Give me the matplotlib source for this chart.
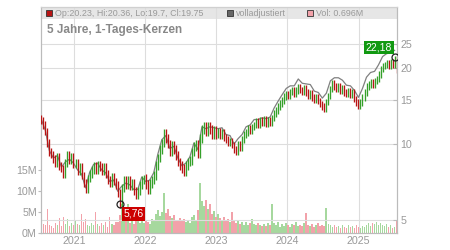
import numpy as np
import pandas as pd
import matplotlib
matplotlib.use('Agg')
import matplotlib.pyplot as plt
from matplotlib.patches import Rectangle
from matplotlib.ticker import FixedLocator, NullLocator

plt.rcParams['font.family'] = ['Liberation Sans', 'DejaVu Sans']

#
# data (price in EUR, volume in millions)
#
closes = [
    12.4, 11.9, 11.2, 10.1, 9.3, 9.1, 8.7, 8.4, 8.9, 8.2, 8.0,
    7.6, 8.4, 9.1, 8.6, 8.9, 8.3, 8.4, 7.8, 8.1, 7.5,
    7.0, 6.6, 7.3, 7.6, 7.9, 8.2, 7.9, 8.3, 8.1, 7.8,
    8.1, 7.6, 7.2, 7.0, 7.4, 7.1, 6.9, 6.4, 5.8, 6.7,
    7.2, 6.9, 7.2, 6.8, 7.0, 6.5, 6.3, 6.5, 6.9, 7.2,
    7.3, 6.9, 6.6, 7.0, 7.2, 7.5, 8.2, 8.8, 9.5, 10.1,
    11.0, 10.5, 10.0, 9.3, 9.9, 9.5, 9.0, 8.5, 8.2, 8.0,
    7.8, 8.2, 8.5, 8.6, 9.3, 9.8, 10.0, 9.2, 10.5, 11.4,
    11.7, 11.2, 11.8, 11.4, 10.9, 11.3, 10.9, 11.2, 10.8, 11.1,
    10.6, 10.4, 10.1, 10.3, 9.9, 9.5, 9.3, 10.0, 9.7, 10.4,
    10.9, 11.1, 11.5, 11.3, 11.7, 11.9, 12.3, 11.9, 12.4, 12.1,
    12.5, 12.0, 12.4, 12.2, 12.7, 13.2, 13.6, 14.1, 14.5, 14.9,
    15.4, 15.8, 15.5, 16.1, 16.3, 15.8, 16.3, 16.8, 16.4, 16.1,
    16.6, 16.0, 15.6, 15.9, 15.3, 15.0, 15.3, 14.8, 14.4, 14.1,
    13.8, 14.7, 15.5, 16.5, 17.4, 16.9, 16.6, 16.9, 16.3, 16.6,
    16.0, 15.8, 16.2, 15.7, 16.0, 15.1, 14.6, 14.2, 14.6, 15.3,
    16.0, 16.9, 17.2, 17.6, 17.2, 17.8, 18.1, 18.9, 19.8, 20.4,
    20.6, 20.9, 20.5, 21.1, 20.7, 21.6, 19.75,
]
first_open = 12.6

# typical high/low reach beyond the candle body per year (percent)
wick_years = [2020, 2021, 2022, 2023, 2024, 2025]
wick_pct = [3.5, 3.5, 4.0, 3.0, 3.0, 3.0]

volume_m = [
    1.5, 2.2, 1.8, 5.8, 2.0, 1.6, 1.3, 2.4, 1.9, 3.6, 1.7,
    3.8, 2.1, 3.4, 1.6, 2.5, 1.9, 3.0, 2.2, 1.8, 4.6,
    2.6, 3.3, 2.0, 1.7, 2.4, 1.9, 4.9, 2.1, 1.6, 2.3,
    1.8, 2.7, 1.5, 3.7, 2.2, 1.9, 2.6, 2.6, 4.2, 7.0,
    3.5, 3.1, 6.8, 2.4, 3.6, 2.2, 2.9, 3.3, 2.5, 3.0,
    2.4, 3.1, 2.7, 2.2, 3.4, 2.8, 4.6, 5.4, 4.1, 5.0,
    9.5, 4.8, 5.6, 4.0, 3.5, 4.4, 3.1, 2.8, 3.6, 2.9,
    3.3, 2.6, 3.0, 2.4, 3.8, 4.2, 2.9, 5.5, 11.8, 7.6,
    6.4, 7.9, 5.8, 6.9, 4.6, 5.2, 3.9, 4.5, 3.6, 3.2,
    3.9, 2.8, 3.4, 2.6, 5.0, 3.1, 2.4, 2.9, 2.2, 2.7,
    2.0, 2.6, 1.9, 2.3, 3.4, 2.1, 1.8, 2.5, 2.0, 1.7,
    2.2, 1.6, 2.4, 1.9, 7.0, 2.3, 1.8, 2.6, 1.5, 2.1,
    1.7, 2.4, 1.9, 1.5, 2.2, 1.8, 2.6, 1.6, 2.0, 1.7,
    2.3, 4.7, 1.9, 1.6, 2.1, 1.5, 1.8, 2.4, 1.7, 2.0,
    1.6, 6.0, 2.2, 1.8, 1.5, 2.0, 1.4, 1.7, 1.3, 1.9,
    1.5, 1.2, 1.8, 1.4, 1.6, 1.3, 2.0, 1.5, 1.2, 1.7,
    1.4, 1.9, 2.3, 1.6, 2.5, 2.1, 2.7, 1.8, 2.4, 2.0,
    1.6, 2.2, 1.4, 1.8, 1.3, 1.5, 3.0,
]

# fully adjusted line, read at every second candle
adjusted = [
    12.5, 11.3, 9.4, 8.8, 9.0, 8.1, 8.5, 8.7, 8.4, 7.9,
    7.6, 6.7, 7.7, 8.3, 8.4, 7.9, 7.7, 7.1, 7.2, 6.5,
    6.8, 7.0, 6.9, 6.6, 6.6, 7.4, 7.1, 7.2, 7.7, 9.1,
    10.4, 10.8, 9.6, 9.8, 8.8, 8.2, 8.4, 8.9, 10.1, 9.5,
    11.7, 11.5, 11.7, 11.6, 11.5, 11.6, 10.9, 10.8, 10.0, 10.5,
    10.9, 11.7, 11.9, 12.5, 12.5, 12.7, 12.6, 12.8, 13.9, 14.8,
    15.7, 16.6, 17.0, 17.0, 18.1, 17.4, 17.3, 17.2, 16.2, 16.0,
    15.2, 15.9, 17.8, 18.3, 18.3, 17.9, 17.1, 17.0, 16.3, 15.3,
    16.6, 18.4, 19.2, 19.4, 20.6, 22.2, 22.8, 23.0, 23.5,
]

low_index, low_value = 39, 5.76
high_index, high_value = 176, 22.18
header_ohlc = "Op:20.23, Hi:20.36, Lo:19.7, Cl:19.75"
header_adj = "volladjustiert"
header_vol = "Vol: 0.696M"
title = "5 Jahre, 1-Tages-Kerzen"
price_ticks = [5, 10, 15, 20, 25]
volume_ticks = [0, 5, 10, 15]
years = [2021, 2022, 2023, 2024, 2025]

#
# colours
#
RED = '#b81414'
GREEN = '#35a02a'
VOL_RED = '#f2a2aa'
VOL_GREEN = '#a6d89e'
GRID = '#dddddd'
AXIS = '#bbbbbb'
LABEL = '#999999'

dates = pd.date_range('2020-07-15', '2025-07-16', periods=len(closes))
closes = np.array(closes)
opens = np.concatenate([[first_open], closes[:-1]])
up = closes >= opens
wick = np.array([wick_pct[wick_years.index(d.year)] for d in dates]) / 100.0
lo = np.minimum(opens, closes) * (1 - wick)
hi = np.maximum(opens, closes) * (1 + wick)

fig = plt.figure(figsize=(4.5, 2.5), dpi=100)
W, H = 450.0, 250.0
ax_vol = fig.add_axes([41 / W, 17 / H, 356 / W, 226 / H])
ax = ax_vol.twinx()

# volume
ax_vol.bar(dates, np.array(volume_m) * 1e6, width=9, linewidth=0,
           color=np.where(up, VOL_GREEN, VOL_RED), zorder=2)
ax_vol.set_ylim(0, 226 / 4.2 * 1e6)
ax_vol.yaxis.set_major_locator(FixedLocator([v * 1e6 for v in volume_ticks]))
ax_vol.set_yticklabels([f'{v}M' for v in volume_ticks])
ax_vol.set_xlim(pd.Timestamp('2020-07-13'), pd.Timestamp('2025-07-18'))
ax_vol.xaxis.set_major_locator(FixedLocator(
    [matplotlib.dates.date2num(pd.Timestamp(f'{y}-01-01')) for y in years]))
ax_vol.set_xticklabels([str(y) for y in years])
ax_vol.set_axisbelow(True)
ax_vol.grid(axis='x', color=GRID, lw=0.8)
ax_vol.tick_params(axis='x', length=0, pad=2.5, labelsize=7.7, labelcolor=LABEL)
ax_vol.tick_params(axis='y', length=2.5, pad=0.5, width=0.8, color=AXIS,
                   labelsize=7.7, labelcolor=LABEL)

# header band
band_y = (233 - 19) / 226.0
ax_vol.add_patch(Rectangle((0, band_y), 1, 1 - band_y, transform=ax_vol.transAxes,
                           facecolor='#e6e6e6', edgecolor='none', zorder=0.2))

# price
ax.set_yscale('log')
ax.plot(dates[::2], adjusted, color='#808080', lw=0.9, zorder=2)
ax.vlines(dates, lo, hi, colors=np.where(up, GREEN, RED), lw=0.95, zorder=3)
ax.set_ylim(4.44, 34.9)
ax.yaxis.set_major_locator(FixedLocator(price_ticks))
ax.yaxis.set_minor_locator(NullLocator())
ax.set_yticklabels([str(p) for p in price_ticks])
ax.set_axisbelow(True)
ax.grid(axis='y', color=GRID, lw=0.8)
ax.tick_params(axis='y', direction='in', length=3, width=0.8, color=AXIS,
               pad=2.5, labelsize=7.7, labelcolor=LABEL)

for a in (ax, ax_vol):
    for side in ('left', 'right', 'bottom', 'top'):
        a.spines[side].set_color(AXIS)
        a.spines[side].set_linewidth(0.8)
ax.spines['top'].set_color('#d0d0d0')

# low / high markers
ax.plot(dates[low_index], low_value, 'o', mfc='none', mec='#222222', ms=5, mew=0.9, zorder=5)
ax.plot(dates[high_index], high_value, 'o', mfc='none', mec='#222222', ms=5, mew=0.9, zorder=5)
ax.annotate(f'{low_value:.2f}'.replace('.', ','), xy=(dates[low_index], low_value),
            xytext=(3.5, -4.5), textcoords='offset pixels', ha='left', va='top',
            color='white', fontsize=7.5, zorder=6,
            bbox=dict(boxstyle='square,pad=0.15', fc='#cc0000', ec='none'))
ax.annotate(f'{high_value:.2f}'.replace('.', ','), xy=(dates[high_index], high_value),
            xytext=(-2.5, 4.5), textcoords='offset pixels', ha='right', va='bottom',
            color='white', fontsize=7.5, zorder=6,
            bbox=dict(boxstyle='square,pad=0.15', fc='#119911', ec='none'))

# header legend
def fx(x):
    return x / W


def fy(y):
    return 1 - y / H


for x0, fc, label in [(46, RED, header_ohlc), (227, '#666666', header_adj),
                      (307, VOL_RED, header_vol)]:
    fig.add_artist(Rectangle((fx(x0), fy(16)), 6 / W, 6 / H, transform=fig.transFigure,
                             facecolor=fc, edgecolor='#333333', lw=0.6))
    fig.text(fx(x0 + 9), fy(13), label, ha='left', va='center', fontsize=6.4,
             color='#999999')

fig.text(fx(47), fy(30), title, ha='left', va='center', fontsize=8.5,
         fontweight='bold', color='#888888')

fig.savefig('out.png', dpi=100)
